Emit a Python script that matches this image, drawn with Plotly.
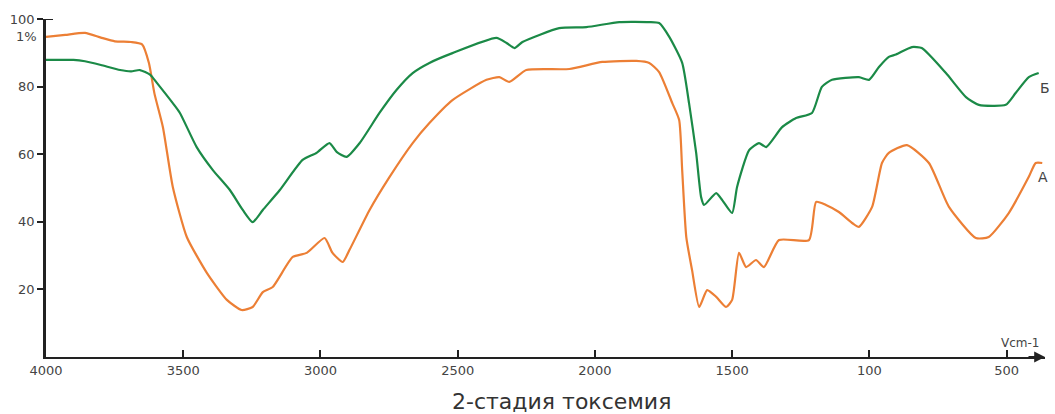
import plotly.graph_objects as go

# Curve A (orange)
wn_A = [4000, 3930, 3858, 3800, 3749, 3690, 3650, 3625, 3605, 3574, 3538, 3487, 3414, 3341, 3287,
        3247, 3210, 3174, 3101, 3050, 2985, 2956, 2919, 2894, 2821, 2748, 2664, 2603, 2519, 2395,
        2348, 2312, 2250, 2093, 1973, 1849, 1802, 1766, 1718, 1693, 1682, 1667, 1646, 1620, 1591,
        1558, 1522, 1500, 1475, 1449, 1413, 1384, 1329, 1220, 1194, 1158, 1111, 1060, 1038, 990,
        954, 929, 863, 783, 710, 612, 565, 492, 419, 394, 370]
tr_A = [94.7, 95.3, 95.9, 94.5, 93.4, 93.2, 92.5, 87.0, 78.0, 68.0, 50.3, 35.5, 24.9, 16.9, 13.9,
        14.8, 19.2, 20.7, 29.6, 30.8, 35.2, 30.8, 28.1, 31.7, 43.5, 53.3, 63.3, 69.2, 76.0, 82.0,
        82.8, 81.4, 84.9, 85.2, 87.3, 87.6, 87.0, 84.3, 75.1, 70.1, 55.3, 35.5, 25.7, 14.8, 19.8,
        17.8, 14.8, 16.9, 30.8, 26.6, 28.7, 26.6, 34.6, 34.6, 45.9, 45.0, 42.9, 39.5, 38.5, 44.4,
        57.4, 60.4, 62.7, 57.4, 44.4, 35.2, 35.5, 42.6, 53.3, 57.4, 57.4]

# Curve B (green)
wn_B = [4000, 3900, 3858, 3800, 3730, 3690, 3658, 3620, 3596, 3538, 3512, 3451, 3392, 3330, 3283,
        3247, 3210, 3148, 3065, 3014, 2967, 2941, 2905, 2857, 2785, 2723, 2664, 2603, 2519, 2359,
        2322, 2293, 2264, 2130, 2031, 1911, 1802, 1766, 1729, 1682, 1657, 1631, 1613, 1602, 1558,
        1536, 1500, 1482, 1438, 1402, 1376, 1318, 1267, 1209, 1173, 1136, 1038, 1001, 965, 929,
        903, 845, 809, 721, 648, 601, 503, 467, 419, 383]
tr_B = [87.9, 87.9, 87.5, 86.4, 84.9, 84.5, 84.9, 83.5, 81.1, 75.1, 72.2, 62.1, 55.3, 49.4, 43.5,
        39.9, 43.5, 49.4, 58.3, 60.4, 63.3, 60.7, 59.2, 63.3, 72.2, 79.0, 84.0, 87.0, 89.9, 94.4,
        92.9, 91.4, 93.2, 97.3, 97.6, 99.1, 99.1, 98.8, 94.7, 87.0, 75.1, 60.4, 47.3, 45.0, 48.5,
        46.4, 42.6, 50.3, 61.2, 63.3, 62.1, 68.0, 70.7, 72.2, 79.9, 82.0, 82.8, 82.0, 85.8, 88.8,
        89.5, 91.7, 91.4, 84.0, 76.9, 74.6, 74.6, 78.1, 82.8, 84.0]

x_tickvals = [4000, 3500, 3000, 2500, 2000, 1500, 1000, 500]
x_ticktext = ["4000", "3500", "3000", "2500", "2000", "1500", "100", "500"]
y_tickvals = [20, 40, 60, 80, 100]
y_ticktext = ["20", "40", "60", "80", "100"]

FONT = "DejaVu Sans"
TICKCOL = "#444444"

fig = go.Figure()
fig.add_trace(go.Scatter(x=wn_A, y=tr_A, mode="lines",
                         line=dict(color="#EC7F35", width=2.2, shape="spline", smoothing=0.55),
                         hoverinfo="skip", showlegend=False))
fig.add_trace(go.Scatter(x=wn_B, y=tr_B, mode="lines",
                         line=dict(color="#1B8A47", width=2.2, shape="spline", smoothing=0.55),
                         hoverinfo="skip", showlegend=False))

fig.update_layout(
    width=1055, height=414,
    margin=dict(l=46, r=10, t=19, b=57),
    paper_bgcolor="white", plot_bgcolor="white",
    font=dict(family=FONT, color=TICKCOL, size=12),
    xaxis=dict(range=[4000, 360], showgrid=False, zeroline=False,
               showline=True, linecolor="#222222", linewidth=2,
               tickvals=x_tickvals, ticktext=x_ticktext,
               ticks="inside", ticklen=7, tickwidth=1.5, tickcolor="#222222",
               tickfont=dict(family=FONT, size=13, color=TICKCOL)),
    yaxis=dict(range=[0, 100], showgrid=False, zeroline=False,
               showline=True, linecolor="#222222", linewidth=2.5,
               tickvals=y_tickvals, ticktext=y_ticktext,
               ticks="outside", ticklen=6, tickwidth=1.5, tickcolor="#222222",
               tickfont=dict(family=FONT, size=13, color=TICKCOL)),
)

# T cap at top of y axis
fig.add_shape(type="line", xref="paper", yref="y", x0=-0.007, x1=0.007, y0=100, y1=100,
              line=dict(color="#222222", width=2))

# arrow at end of x axis
fig.add_annotation(x=1.0, y=0, xref="paper", yref="y", ax=-18, ay=0,
                   showarrow=True, arrowhead=2, arrowsize=1.2, arrowwidth=1.8,
                   arrowcolor="#222222", text="")

annots = [
    dict(text="1%", x=-0.007, y=94.7, xref="paper", yref="y", xanchor="right", yanchor="middle",
         font=dict(family=FONT, size=13, color=TICKCOL)),
    dict(text="Vcm-1", x=0.975, y=0.041, xref="paper", yref="paper", xanchor="center", yanchor="middle",
         font=dict(family=FONT, size=12, color=TICKCOL)),
    dict(text="Б", x=1.0, y=0.796, xref="paper", yref="paper", xanchor="center", yanchor="middle",
         font=dict(family=FONT, size=14, color=TICKCOL)),
    dict(text="А", x=0.998, y=0.533, xref="paper", yref="paper", xanchor="center", yanchor="middle",
         font=dict(family=FONT, size=14, color=TICKCOL)),
    dict(text="2-стадия токсемия", x=(561 - 46) / 999, y=-0.133, xref="paper", yref="paper",
         xanchor="center", yanchor="middle",
         font=dict(family=FONT, size=22, color="#333333")),
]
for a in annots:
    fig.add_annotation(showarrow=False, **a)

fig.write_html("out.html")
